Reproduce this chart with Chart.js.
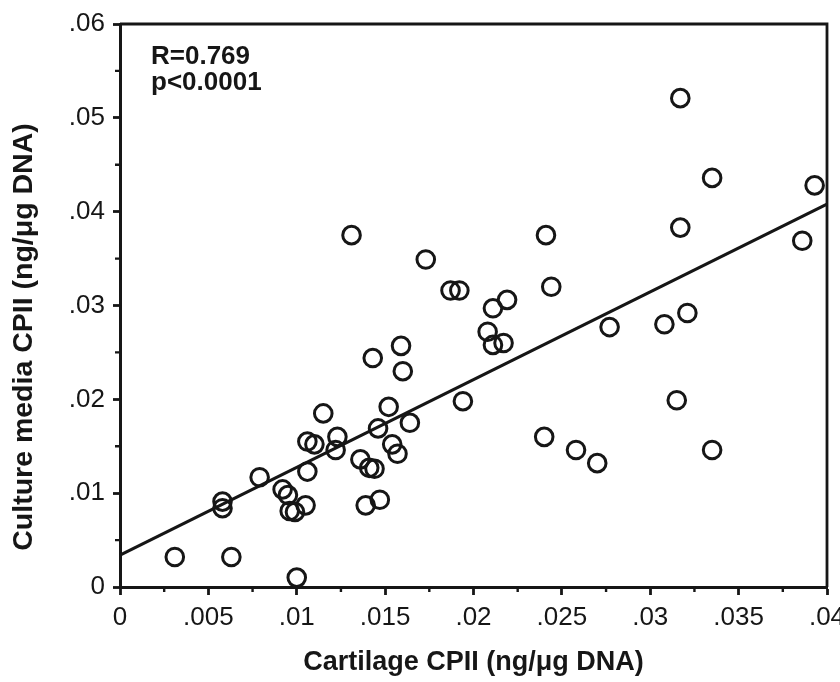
<!DOCTYPE html>
<html>
<head>
<meta charset="utf-8">
<script src="https://cdn.jsdelivr.net/npm/chart.js@4/dist/chart.umd.min.js"></script>
<style>
  html, body { margin: 0; padding: 0; background: #ffffff; }
  #wrap { width: 840px; height: 682px; }
</style>
</head>
<body>
<div id="wrap"><canvas id="c" width="840" height="682"></canvas></div>
<script>
// ---- data ----
const cartilageCPII = [
  0.0031, 0.0063, 0.0100, 0.0058, 0.0058, 0.0079, 0.0092, 0.0095, 0.0105, 0.0096,
  0.0099, 0.0106, 0.0106, 0.0110, 0.0115, 0.0123, 0.0122, 0.0136, 0.0141, 0.0144,
  0.0139, 0.0147, 0.0146, 0.0152, 0.0154, 0.0157, 0.0164, 0.0143, 0.0159, 0.0160,
  0.0194, 0.0131, 0.0173, 0.0187, 0.0192, 0.0317, 0.0335, 0.0393, 0.0317, 0.0386,
  0.0241, 0.0244, 0.0219, 0.0211, 0.0208, 0.0211, 0.0217, 0.0277, 0.0308, 0.0321,
  0.0315, 0.0240, 0.0258, 0.0270, 0.0335
];
const cultureCPII = [
  0.0032, 0.0032, 0.0010, 0.0091, 0.0084, 0.0117, 0.0104, 0.0098, 0.0087, 0.0081,
  0.0080, 0.0123, 0.0155, 0.0152, 0.0185, 0.0160, 0.0146, 0.0136, 0.0127, 0.0126,
  0.0087, 0.0093, 0.0169, 0.0192, 0.0152, 0.0142, 0.0175, 0.0244, 0.0257, 0.0230,
  0.0198, 0.0375, 0.0349, 0.0316, 0.0316, 0.0521, 0.0436, 0.0428, 0.0383, 0.0369,
  0.0375, 0.0320, 0.0306, 0.0297, 0.0272, 0.0258, 0.0260, 0.0277, 0.0280, 0.0292,
  0.0199, 0.0160, 0.0146, 0.0132, 0.0146
];
const fitLineX = [0, 0.04];
const fitLineY = [0.0034, 0.0408];

const xTickValues = [0, 0.005, 0.01, 0.015, 0.02, 0.025, 0.03, 0.035, 0.04];
const xTickLabels = ['0', '.005', '.01', '.015', '.02', '.025', '.03', '.035', '.04'];
const yTickValues = [0, 0.01, 0.02, 0.03, 0.04, 0.05, 0.06];
const yTickLabels = ['0', '.01', '.02', '.03', '.04', '.05', '.06'];

const xTitle = 'Cartilage CPII (ng/\u03BCg DNA)';
const yTitle = 'Culture media CPII (ng/\u03BCg DNA)';
const statLines = ['R=0.769', 'p<0.0001'];

// ---- styling ----
const INK = '#161616';
const FONT = '"Liberation Sans", Arial, Helvetica, sans-serif';

const points = cartilageCPII.map((x, i) => ({ x: x, y: cultureCPII[i] }));
const fitLine = fitLineX.map((x, i) => ({ x: x, y: fitLineY[i] }));

const decorPlugin = {
  id: 'decor',
  afterDraw(chart) {
    const ctx = chart.ctx;
    const a = chart.chartArea;
    const xs = chart.scales.x, ys = chart.scales.y;
    ctx.save();
    // top and right frame
    ctx.strokeStyle = INK;
    ctx.lineWidth = 2.8;
    ctx.beginPath();
    ctx.moveTo(a.left, a.top);
    ctx.lineTo(a.right, a.top);
    ctx.lineTo(a.right, a.bottom);
    ctx.stroke();
    // minor ticks (midpoints)
    ctx.lineWidth = 2.4;
    ctx.beginPath();
    for (let i = 0; i < xTickValues.length - 1; i++) {
      const px = xs.getPixelForValue((xTickValues[i] + xTickValues[i + 1]) / 2);
      ctx.moveTo(px, a.bottom);
      ctx.lineTo(px, a.bottom + 5);
    }
    for (let i = 0; i < yTickValues.length - 1; i++) {
      const py = ys.getPixelForValue((yTickValues[i] + yTickValues[i + 1]) / 2);
      ctx.moveTo(a.left, py);
      ctx.lineTo(a.left - 5, py);
    }
    ctx.stroke();
    // statistics text
    ctx.fillStyle = INK;
    ctx.font = 'bold 26px ' + FONT;
    ctx.textAlign = 'left';
    ctx.textBaseline = 'alphabetic';
    ctx.fillText(statLines[0], a.left + 31, 64);
    ctx.fillText(statLines[1], a.left + 31, 90);
    // y-axis title
    ctx.translate(24, 337);
    ctx.rotate(-Math.PI / 2);
    ctx.textAlign = 'center';
    ctx.textBaseline = 'middle';
    ctx.font = 'bold 28.5px ' + FONT;
    ctx.fillText(yTitle, 0, 0);
    ctx.restore();
  }
};

new Chart(document.getElementById('c'), {
  type: 'scatter',
  data: {
    datasets: [
      {
        label: 'Samples',
        data: points,
        pointStyle: 'circle',
        pointRadius: 8.8,
        pointHoverRadius: 8.8,
        borderWidth: 3,
        borderColor: INK,
        backgroundColor: 'rgba(0,0,0,0)',
        clip: false
      },
      {
        label: 'Regression',
        type: 'line',
        data: fitLine,
        showLine: true,
        pointRadius: 0,
        borderColor: INK,
        borderWidth: 3.2,
        fill: false,
        clip: false
      }
    ]
  },
  options: {
    responsive: false,
    animation: false,
    events: [],
    layout: { padding: { left: 0, right: 13, top: 24, bottom: 0 } },
    plugins: {
      legend: { display: false },
      tooltip: { enabled: false },
      title: { display: false }
    },
    scales: {
      x: {
        type: 'linear',
        position: 'bottom',
        min: 0,
        max: 0.04,
        afterBuildTicks(scale) { scale.ticks = xTickValues.map(v => ({ value: v })); },
        afterFit(scale) { scale.height = 95; scale.paddingLeft = 0; scale.paddingRight = 0; },
        ticks: {
          autoSkip: false,
          maxRotation: 0,
          color: INK,
          padding: 7,
          font: { family: FONT, size: 26 },
          callback(value, index) { return xTickLabels[index]; }
        },
        grid: {
          drawOnChartArea: false,
          drawTicks: true,
          tickLength: 8,
          tickWidth: 2.8,
          tickColor: INK
        },
        border: { display: true, color: INK, width: 3 },
        title: {
          display: true,
          text: xTitle,
          color: INK,
          font: { family: FONT, size: 27, weight: 'bold' },
          padding: { top: 0, bottom: 3 }
        }
      },
      y: {
        type: 'linear',
        position: 'left',
        min: 0,
        max: 0.06,
        afterBuildTicks(scale) { scale.ticks = yTickValues.map(v => ({ value: v })); },
        afterFit(scale) { scale.width = 120; scale.paddingTop = 0; scale.paddingBottom = 0; },
        ticks: {
          autoSkip: false,
          color: INK,
          padding: 8,
          font: { family: FONT, size: 26 },
          callback(value, index) { return yTickLabels[index]; }
        },
        grid: {
          drawOnChartArea: false,
          drawTicks: true,
          tickLength: 7,
          tickWidth: 2.8,
          tickColor: INK
        },
        border: { display: true, color: INK, width: 3 },
        title: { display: false }
      }
    }
  },
  plugins: [decorPlugin]
});
</script>
</body>
</html>
